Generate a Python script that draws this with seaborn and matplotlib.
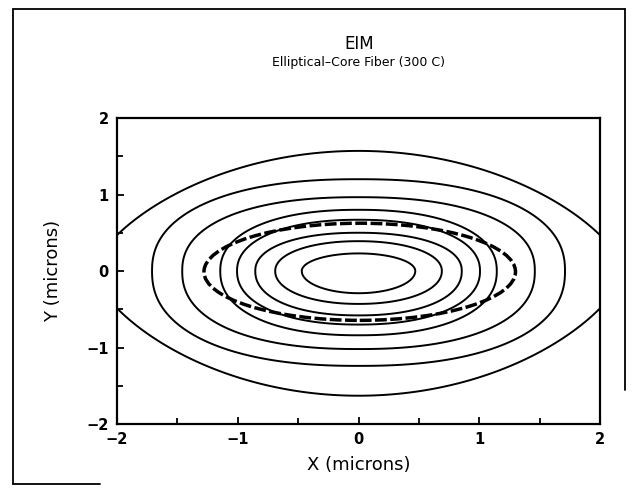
import numpy as np
import matplotlib
matplotlib.use("Agg")
import matplotlib.pyplot as plt
import seaborn as sns
from matplotlib.patches import Ellipse
from matplotlib.lines import Line2D
from matplotlib.ticker import MultipleLocator

# --- data (innermost contour first) ---
# half width of each contour on the x axis, half height above / below the x axis
x_half = [0.47, 0.69, 0.855, 1.006, 1.145, 1.46, 1.71, 2.2]
y_upper = [0.23, 0.39, 0.50, 0.67, 0.80, 0.965, 1.20, 1.57]
y_lower = [0.29, 0.43, 0.58, 0.70, 0.84, 1.02, 1.24, 1.63]
# shape of each contour (superellipse exponents for x and y)
x_power = [2.0, 2.1, 2.2, 2.2, 2.25, 2.3, 2.3, 2.0]
y_power = [2.0, 2.1, 2.2, 2.2, 2.25, 2.3, 2.3, 1.45]

# elliptical core boundary (dashed)
core_center = (0.01, -0.01)
core_a = 1.29
core_b = 0.635

ticks = [-2, -1, 0, 1, 2]
tick_labels = ["\u22122", "\u22121", "0", "1", "2"]

xs = np.linspace(-2.05, 2.05, 821)
ys = np.linspace(-2.05, 2.05, 821)
X, Y = np.meshgrid(xs, ys)

sns.set_theme(style="ticks")
plt.rcParams['font.family'] = ['DejaVu Sans']

fig = plt.figure(figsize=(6.35, 4.95), dpi=100)
ax = fig.add_axes([0.1843, 0.1434, 0.7606, 0.6182])

for a, bu, bl, p, q in zip(x_half, y_upper, y_lower, x_power, y_power):
    b = np.where(Y >= 0, bu, bl)
    shape = np.abs(X / a) ** p + np.abs(Y / b) ** q
    ax.contour(X, Y, shape, levels=[1.0], colors="black", linewidths=1.4)

ax.add_patch(Ellipse(core_center, 2 * core_a, 2 * core_b, fill=False,
                     edgecolor="black", linewidth=2.5, linestyle=(0, (3.4, 1.0))))

ax.set_xlim(-2, 2)
ax.set_ylim(-2, 2)
ax.set_xticks(ticks)
ax.set_yticks(ticks)
ax.set_xticklabels(tick_labels, fontsize=10.5, fontweight="bold")
ax.set_yticklabels(tick_labels, fontsize=10.5, fontweight="bold")
ax.xaxis.set_minor_locator(MultipleLocator(0.5))
ax.yaxis.set_minor_locator(MultipleLocator(0.5))
ax.tick_params(which="both", direction="in", top=False, right=False,
               width=1.3, color="black", labelcolor="black")
ax.tick_params(which="major", length=5, pad=6)
ax.tick_params(which="minor", length=4)
for sp in ax.spines.values():
    sp.set_linewidth(1.6)
    sp.set_color("black")

ax.set_xlabel("X (microns)", fontsize=13, color="black")
ax.set_ylabel("Y (microns)", fontsize=13, color="black")
ax.xaxis.set_label_coords(0.5, -0.105)
ax.yaxis.set_label_coords(-0.114, 0.5)

fig.text(0.565, 1 - 44 / 495, "EIM", ha="center", va="center",
         fontsize=12, color="black")
fig.text(0.565, 1 - 63 / 495, "Elliptical\u2013Core Fiber (300 C)",
         ha="center", va="center", fontsize=9, color="black")

# page frame around the plot
W, H = 635, 495
frame = [((13, 13), (9, 484)), ((13, 625), (9, 9)), ((625, 625), (9, 390)),
         ((13, 100), (484, 484))]
for (px, py) in frame:
    fig.add_artist(Line2D([v / W for v in px], [1 - v / H for v in py],
                          color="black", linewidth=1.3))

fig.savefig("out.png", dpi=100)
